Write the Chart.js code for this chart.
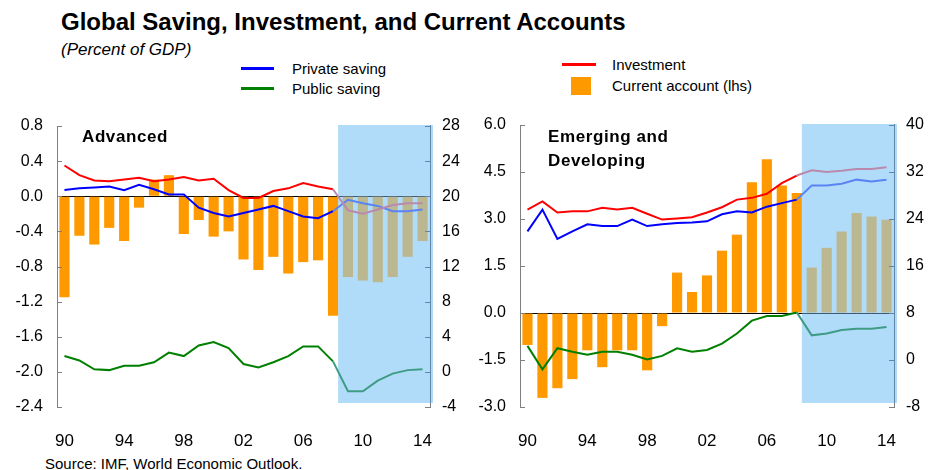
<!DOCTYPE html>
<html>
<head>
<meta charset="utf-8">
<title>Global Saving, Investment, and Current Accounts</title>
<script src="https://cdn.jsdelivr.net/npm/chart.js@4.4.1/dist/chart.umd.min.js"></script>
<style>
  html, body { margin: 0; padding: 0; background: #fff; }
  body { width: 928px; height: 470px; position: relative; overflow: hidden; font-family: "Liberation Sans", Arial, sans-serif; color: #000; }
  .txt { position: absolute; white-space: nowrap; }
  #title { left: 61px; top: 10px; font-size: 24px; line-height: 24px; font-weight: bold; }
  #subtitle { left: 61px; top: 41px; font-size: 17px; line-height: 17px; font-style: italic; }
  .leg { font-size: 15px; line-height: 18px; }
  .sw-line { position: absolute; height: 3px; }
  .sw-box { position: absolute; width: 20px; height: 18px; background: #ff9900; }
  .panel-title { font-size: 17px; line-height: 24px; font-weight: bold; letter-spacing: 0.6px; }
  #source { left: 45px; top: 455px; font-size: 15px; line-height: 18px; }
  canvas { position: absolute; top: 100px; }
</style>
</head>
<body>
<div id="title" class="txt">Global Saving, Investment, and Current Accounts</div>
<div id="subtitle" class="txt">(Percent of GDP)</div>

<div class="sw-line" style="left:241px; top:67px; width:33px; background:#0000ff;"></div>
<div class="txt leg" style="left:292px; top:60px;">Private saving</div>
<div class="sw-line" style="left:241px; top:87px; width:33px; background:#008000;"></div>
<div class="txt leg" style="left:292px; top:80px;">Public saving</div>
<div class="sw-line" style="left:562px; top:63px; width:34px; background:#ff0000;"></div>
<div class="txt leg" style="left:612px; top:56px;">Investment</div>
<div class="sw-box" style="left:571px; top:77px;"></div>
<div class="txt leg" style="left:612px; top:77px;">Current account (lhs)</div>

<canvas id="adv" width="464" height="350" style="left:0px;"></canvas>
<canvas id="emg" width="464" height="350" style="left:464px;"></canvas>

<div class="txt panel-title" style="left:82px; top:125px;">Advanced</div>
<div class="txt panel-title" style="left:548px; top:125px;">Emerging and<br>Developing</div>

<div id="source" class="txt">Source: IMF, World Economic Outlook.</div>

<script>
"use strict";

const years = [];
for (let y = 1990; y <= 2014; y++) years.push(y);
const xTickYears = [1990, 1994, 1998, 2002, 2006, 2010, 2014];
const lastActualYear = 2008;

// Advanced economies: current account (lhs), saving/investment (rhs)
const advCurrentAccount = [-1.15, -0.45, -0.55, -0.36, -0.51, -0.13, 0.19, 0.24, -0.43, -0.27, -0.46, -0.40, -0.72, -0.84, -0.69, -0.88, -0.75, -0.73, -1.36, -0.92, -0.96, -0.98, -0.92, -0.69, -0.51];
const advInvestment = [23.5, 22.4, 21.8, 21.7, 21.9, 22.1, 21.7, 21.9, 22.2, 21.8, 22.0, 20.7, 19.8, 19.8, 20.6, 20.9, 21.5, 21.1, 20.8, 18.4, 18.0, 18.5, 19.0, 19.2, 19.2];
const advPrivateSaving = [20.7, 20.9, 21.0, 21.1, 20.7, 21.3, 20.8, 20.2, 20.2, 18.7, 18.1, 17.7, 18.1, 18.5, 18.9, 18.3, 17.7, 17.5, 18.3, 19.6, 19.2, 18.9, 18.3, 18.3, 18.5];
const advPublicSaving = [1.8, 1.3, 0.3, 0.2, 0.7, 0.7, 1.1, 2.2, 1.8, 3.0, 3.4, 2.7, 0.9, 0.5, 1.1, 1.8, 2.9, 2.9, 1.2, -2.2, -2.2, -1.0, -0.2, 0.2, 0.3];
const advLeftTicks = { min: -2.4, max: 0.8, step: 0.4 };
const advRightTicks = { min: -4, max: 28, step: 4 };

// Emerging and developing economies
const emgCurrentAccount = [-1.02, -2.71, -2.40, -2.11, -1.19, -1.73, -1.19, -1.19, -1.83, -0.42, 1.29, 0.67, 1.20, 1.99, 2.50, 4.17, 4.91, 4.07, 3.83, 1.45, 2.08, 2.60, 3.19, 3.08, 2.98];
const emgInvestment = [25.6, 27.0, 25.1, 25.3, 25.3, 25.9, 25.6, 25.9, 24.9, 23.9, 24.1, 24.3, 25.1, 26.0, 27.3, 27.6, 28.3, 30.1, 31.4, 32.3, 32.0, 32.2, 32.5, 32.5, 32.8];
const emgPrivateSaving = [21.9, 25.6, 20.6, 21.9, 23.1, 22.8, 22.8, 23.9, 22.8, 23.1, 23.3, 23.4, 23.6, 24.8, 25.3, 25.1, 26.1, 26.7, 27.3, 29.7, 29.7, 30.0, 30.7, 30.4, 30.7];
const emgPublicSaving = [2.4, -1.6, 2.0, 1.4, 0.9, 1.4, 1.4, 0.9, 0.1, 0.7, 2.0, 1.4, 1.7, 2.8, 4.5, 6.7, 7.5, 7.5, 8.1, 4.2, 4.5, 5.1, 5.3, 5.3, 5.6];
const emgLeftTicks = { min: -3, max: 6, step: 1.5 };
const emgRightTicks = { min: -8, max: 40, step: 8 };

const FONT = '"Liberation Sans", Arial, sans-serif';
const AXIS_GRAY = "#808080";
const SHADE = "#b0dcfa";
const SHADE_EDGE = "#5f86a8";
// actual / projected colours
const COLORS = {
  ca: ["#ff9900", "#bbb891"],
  inv: ["#ff0000", "#b98aae"],
  priv: ["#0000ff", "#5b83f3"],
  pub: ["#008000", "#3f9c84"],
};
const lastIdx = years.indexOf(lastActualYear);

// shading behind the projections, inward ticks on top
const decorPlugin = {
  id: "decor",
  beforeDatasetsDraw(chart) {
    const { ctx, chartArea, scales } = chart;
    const bar = chart.getDatasetMeta(0).data[lastIdx];
    const left = bar.x + bar.width / 2;
    const bottom = chartArea.bottom - 4;
    ctx.save();
    ctx.fillStyle = SHADE;
    ctx.fillRect(left, chartArea.top - 1, chartArea.right + 3 - left, bottom - chartArea.top + 1);
    ctx.strokeStyle = SHADE_EDGE;
    ctx.lineWidth = 1;
    const rx = Math.round(scales.y2.left) + 0.5;
    ctx.beginPath();
    ctx.moveTo(rx, chartArea.top - 1);
    ctx.lineTo(rx, bottom);
    ctx.stroke();
    const zy = Math.round(scales.y.getPixelForValue(0)) + 0.5;
    ctx.strokeStyle = "#3e5a74";
    ctx.beginPath();
    ctx.moveTo(left, zy);
    ctx.lineTo(chartArea.right, zy);
    ctx.stroke();
    ctx.restore();
  },
  afterDraw(chart) {
    const { ctx, chartArea, scales } = chart;
    ctx.save();
    ctx.lineWidth = 1;
    ["y", "y2"].forEach((id) => {
      const s = scales[id];
      const x0 = id === "y" ? s.right : s.left;
      const dir = id === "y" ? 1 : -1;
      s.ticks.forEach((t) => {
        const py = Math.round(s.getPixelForValue(t.value)) + 0.5;
        ctx.strokeStyle = id === "y2" && py < chartArea.bottom - 4 ? SHADE_EDGE : AXIS_GRAY;
        ctx.beginPath();
        ctx.moveTo(x0, py);
        ctx.lineTo(x0 + dir * 5, py);
        ctx.stroke();
      });
    });
    ctx.restore();
  },
};

function lineDs(label, data, colors) {
  return {
    type: "line", label, data, yAxisID: "y2",
    borderColor: colors[0], backgroundColor: colors[0], borderWidth: 2, pointRadius: 0, tension: 0, order: 1,
    segment: { borderColor: (c) => (c.p1DataIndex > lastIdx ? colors[1] : undefined) },
  };
}

function render(canvasId, spec) {
  const fmtLeft = (v) => (Math.abs(v) < 1e-9 ? 0 : v).toFixed(1);
  return new Chart(document.getElementById(canvasId), {
    type: "bar",
    data: {
      labels: years,
      datasets: [
        {
          type: "bar", label: "Current account (lhs)", data: spec.ca, yAxisID: "y",
          backgroundColor: years.map((y) => (y > lastActualYear ? COLORS.ca[1] : COLORS.ca[0])),
          barPercentage: 0.68, categoryPercentage: 1, order: 2,
        },
        lineDs("Investment", spec.inv, COLORS.inv),
        lineDs("Private saving", spec.priv, COLORS.priv),
        lineDs("Public saving", spec.pub, COLORS.pub),
      ],
    },
    options: {
      responsive: false,
      animation: false,
      layout: { padding: { top: spec.padTop, left: 0, right: 0, bottom: 0 } },
      plugins: { legend: { display: false }, tooltip: { enabled: false } },
      scales: {
        x: {
          grid: { display: false },
          border: { display: false },
          ticks: {
            autoSkip: false, maxRotation: 0, padding: 16, color: "#000", font: { family: FONT, size: 17 },
            callback: (v, i) => (xTickYears.includes(years[i]) ? String(years[i]).slice(2) : ""),
          },
          afterFit: (s) => { s.height = 43; },
        },
        y: {
          position: "left",
          min: spec.left.min, max: spec.left.max,
          ticks: { stepSize: spec.left.step, padding: 14, color: "#000", font: { family: FONT, size: 16 }, callback: fmtLeft },
          grid: { drawTicks: false, lineWidth: 1, color: (c) => (c.tick && Math.abs(c.tick.value) < 1e-9 ? "#000" : "rgba(0,0,0,0)") },
          border: { display: true, color: AXIS_GRAY, width: 1 },
          afterFit: (s) => { s.width = spec.leftWidth; },
        },
        y2: {
          position: "right",
          min: spec.right.min, max: spec.right.max,
          ticks: { stepSize: spec.right.step, padding: 12, color: "#000", font: { family: FONT, size: 16 }, callback: (v) => String(Math.round(v)) },
          grid: { display: false, drawTicks: false },
          border: { display: true, color: AXIS_GRAY, width: 1 },
          afterFit: (s) => { s.width = 34; },
        },
      },
    },
    plugins: [decorPlugin],
  });
}

render("adv", { ca: advCurrentAccount, inv: advInvestment, priv: advPrivateSaving, pub: advPublicSaving, left: advLeftTicks, right: advRightTicks, leftWidth: 57, padTop: 26 });
render("emg", { ca: emgCurrentAccount, inv: emgInvestment, priv: emgPrivateSaving, pub: emgPublicSaving, left: emgLeftTicks, right: emgRightTicks, leftWidth: 56, padTop: 25 });
</script>
</body>
</html>
